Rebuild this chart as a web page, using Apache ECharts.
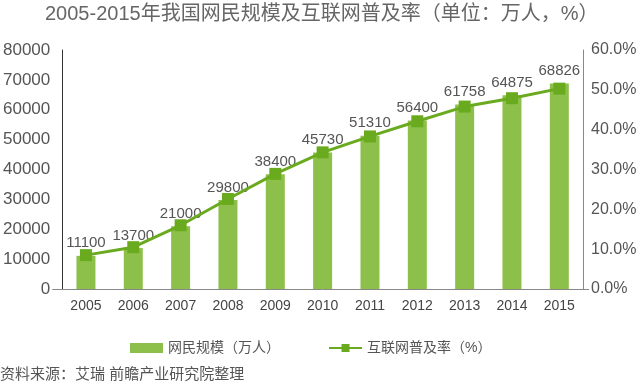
<!DOCTYPE html>
<html><head><meta charset="utf-8">
<script src="https://cdn.jsdelivr.net/npm/echarts@6/dist/echarts.min.js"></script>
<style>html,body{margin:0;padding:0;background:#fff}#c{width:640px;height:383px}</style>
</head><body><div id="c"></div>
<script>
const years = ['2005','2006','2007','2008','2009','2010','2011','2012','2013','2014','2015'];
const netizens = [11100,13700,21000,29800,38400,45730,51310,56400,61758,64875,68826];
const penetration = [8.5,10.5,16.0,22.6,28.9,34.3,38.3,42.1,45.8,47.9,50.3];
const titleText = '2005-2015年我国网民规模及互联网普及率（单位：万人，%）';
const sourceText = '资料来源：艾瑞 前瞻产业研究院整理';
const barName = '网民规模（万人）';
const lineName = '互联网普及率（%）';

const font = '"Liberation Sans", "Noto Sans CJK SC", sans-serif';
const chart = echarts.init(document.getElementById('c'));
chart.setOption({
  animation: false,
  textStyle: {fontFamily: font},
  title: [{text: titleText, left: 40, top: -1, textStyle: {fontSize: 20, fontWeight: 'normal', color: '#666', fontFamily: font}},
          {text: sourceText, left: -5, top: 362, textStyle: {fontSize: 15, fontWeight: 'normal', color: '#555', fontFamily: font}}],
  grid: {left: 62, right: 57, top: 50, bottom: 94},
  legend: {top: 336, left: 125, itemGap: 48, itemWidth: 33, itemHeight: 10,
    textStyle: {fontSize: 14, color: '#555', fontFamily: font},
    data: [{name: barName, icon: 'rect'}, {name: lineName}]},
  xAxis: {type: 'category', data: years,
    axisLine: {lineStyle: {color: '#888'}}, axisTick: {show: false},
    axisLabel: {fontSize: 14, color: '#444', margin: 10, fontFamily: font}},
  yAxis: [{type: 'value', min: 0, max: 80000, interval: 10000,
    axisLine: {show: true, lineStyle: {color: '#333'}},
    axisTick: {show: true, customValues: [0], length: 10, lineStyle: {color: '#888'}},
    splitLine: {show: false},
    axisLabel: {fontSize: 17, color: '#555', margin: 12, fontFamily: font, formatter: v => String(v)}},
   {type: 'value', min: 0, max: 60, interval: 10, position: 'right',
    axisLine: {show: true, lineStyle: {color: '#888'}},
    axisTick: {show: true, customValues: [0], length: 6, lineStyle: {color: '#888'}},
    splitLine: {show: false},
    axisLabel: {fontSize: 16, color: '#555', margin: 8, fontFamily: font, formatter: v => v.toFixed(1) + '%'}}],
  series: [
    {name: barName, type: 'bar', data: netizens, barWidth: 19, itemStyle: {color: '#8dc04a'},
     label: {show: true, position: 'top', distance: 5, fontSize: 15, color: '#555', fontFamily: font}},
    {name: lineName, type: 'line', yAxisIndex: 1, data: penetration, symbol: 'rect', symbolSize: 12,
     lineStyle: {color: '#6aaa1e', width: 3}, itemStyle: {color: '#6aaa1e'}, z: 5}
  ]
});
</script></body></html>
